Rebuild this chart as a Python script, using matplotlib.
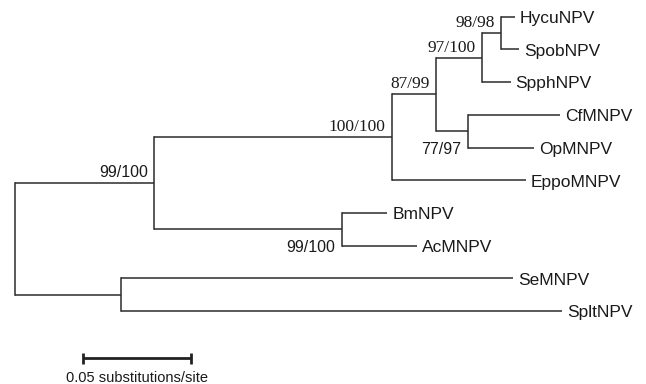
import matplotlib.pyplot as plt

# Tree as a parent table; branch lengths in substitutions/site
nodes = ['root', 'n1', 'n2', 'n3', 'n4', 'n5', 'n6', 'n7', 'n8',
         'HycuNPV', 'SpobNPV', 'SpphNPV', 'CfMNPV', 'OpMNPV', 'EppoMNPV',
         'BmNPV', 'AcMNPV', 'SeMNPV', 'SpltNPV']
parents = [None, 'root', 'n1', 'n2', 'n3', 'n4', 'n3', 'n1', 'root',
           'n5', 'n5', 'n4', 'n6', 'n6', 'n2', 'n7', 'n7', 'n8', 'n8']
lengths = [0.0, 0.0645, 0.1100, 0.0205, 0.0212, 0.0088, 0.0150, 0.0872, 0.0491,
           0.0066, 0.0085, 0.0134, 0.0425, 0.0304, 0.0620,
           0.0208, 0.0347, 0.1818, 0.2042]

# bootstrap support labels
support_nodes = ['n1', 'n2', 'n3', 'n4', 'n5', 'n6', 'n7']
support_labels = ['99/100', '100/100', '87/99', '97/100', '98/98', '77/97', '99/100']
support_below = [False, False, False, False, False, True, True]
support_serif = [False, True, True, True, True, False, False]

scale_len = 0.05

# ---- layout ----
parent = dict(zip(nodes, parents))
blen = dict(zip(nodes, lengths))
children = {n: [c for c in nodes if parent[c] == n] for n in nodes}
tips = [n for n in nodes if not children[n]]

xpos = {}
for n in nodes:  # parents always listed before children
    xpos[n] = 0.0 if parent[n] is None else xpos[parent[n]] + blen[n]

ypos = {t: i for i, t in enumerate(tips)}
def set_y(n):
    if n in ypos:
        return ypos[n]
    ys = [set_y(c) for c in children[n]]
    ypos[n] = (min(ys) + max(ys)) / 2
    return ypos[n]
set_y('root')

fig = plt.figure(figsize=(6.46, 3.84), dpi=100)
ax = fig.add_axes([0, 0, 1, 1])
ax.set_axis_off()
ax.set_xlim(-14.7 / 2160, (646 - 14.7) / 2160)
ax.set_ylim((384 - 16.7) / 32.7, -16.7 / 32.7)

lc = '#2b2b2b'
lw = 1.1
for n in nodes:
    if parent[n] is not None:
        ax.plot([xpos[parent[n]], xpos[n]], [ypos[n], ypos[n]], color=lc, lw=lw,
                solid_capstyle='butt')
    if children[n]:
        ys = [ypos[c] for c in children[n]]
        ax.plot([xpos[n], xpos[n]], [min(ys), max(ys)], color=lc, lw=lw,
                solid_capstyle='projecting')

for t in tips:
    ax.annotate(t, (xpos[t], ypos[t]), xytext=(5, -6.3), textcoords='offset pixels',
                ha='left', va='baseline', fontsize=12.5, family='Liberation Sans',
                color='#1a1a1a')

for n, lab, below, serif in zip(support_nodes, support_labels, support_below, support_serif):
    fam = 'Liberation Serif' if serif else 'Liberation Sans'
    fs = 12.5 if serif else 11.5
    if below:
        last = max(ypos[c] for c in children[n])
        ax.annotate(lab, (xpos[n], last), xytext=(-7, -6), textcoords='offset pixels',
                    ha='right', va='baseline', fontsize=fs, family=fam, color='#1a1a1a')
    else:
        ax.annotate(lab, (xpos[n], ypos[n]), xytext=(-6, 6), textcoords='offset pixels',
                    ha='right', va='baseline', fontsize=fs, family=fam, color='#1a1a1a')

# scale bar
sx = (82.7 - 14.7) / 2160
sy = (358.3 - 16.7) / 32.7
ax.plot([sx, sx + scale_len], [sy, sy], color='#222222', lw=2.0, solid_capstyle='butt')
for xx in [sx, sx + scale_len]:
    ax.plot([xx, xx], [sy - 0.16, sy + 0.16], color='#222222', lw=2.0, solid_capstyle='butt')
ax.annotate('%.2f substitutions/site' % scale_len, (sx + scale_len / 2, sy),
            xytext=(0, -24), textcoords='offset pixels', ha='center', va='baseline',
            fontsize=10.5, family='Liberation Sans', color='#1a1a1a')

fig.savefig('out.png', dpi=100)
